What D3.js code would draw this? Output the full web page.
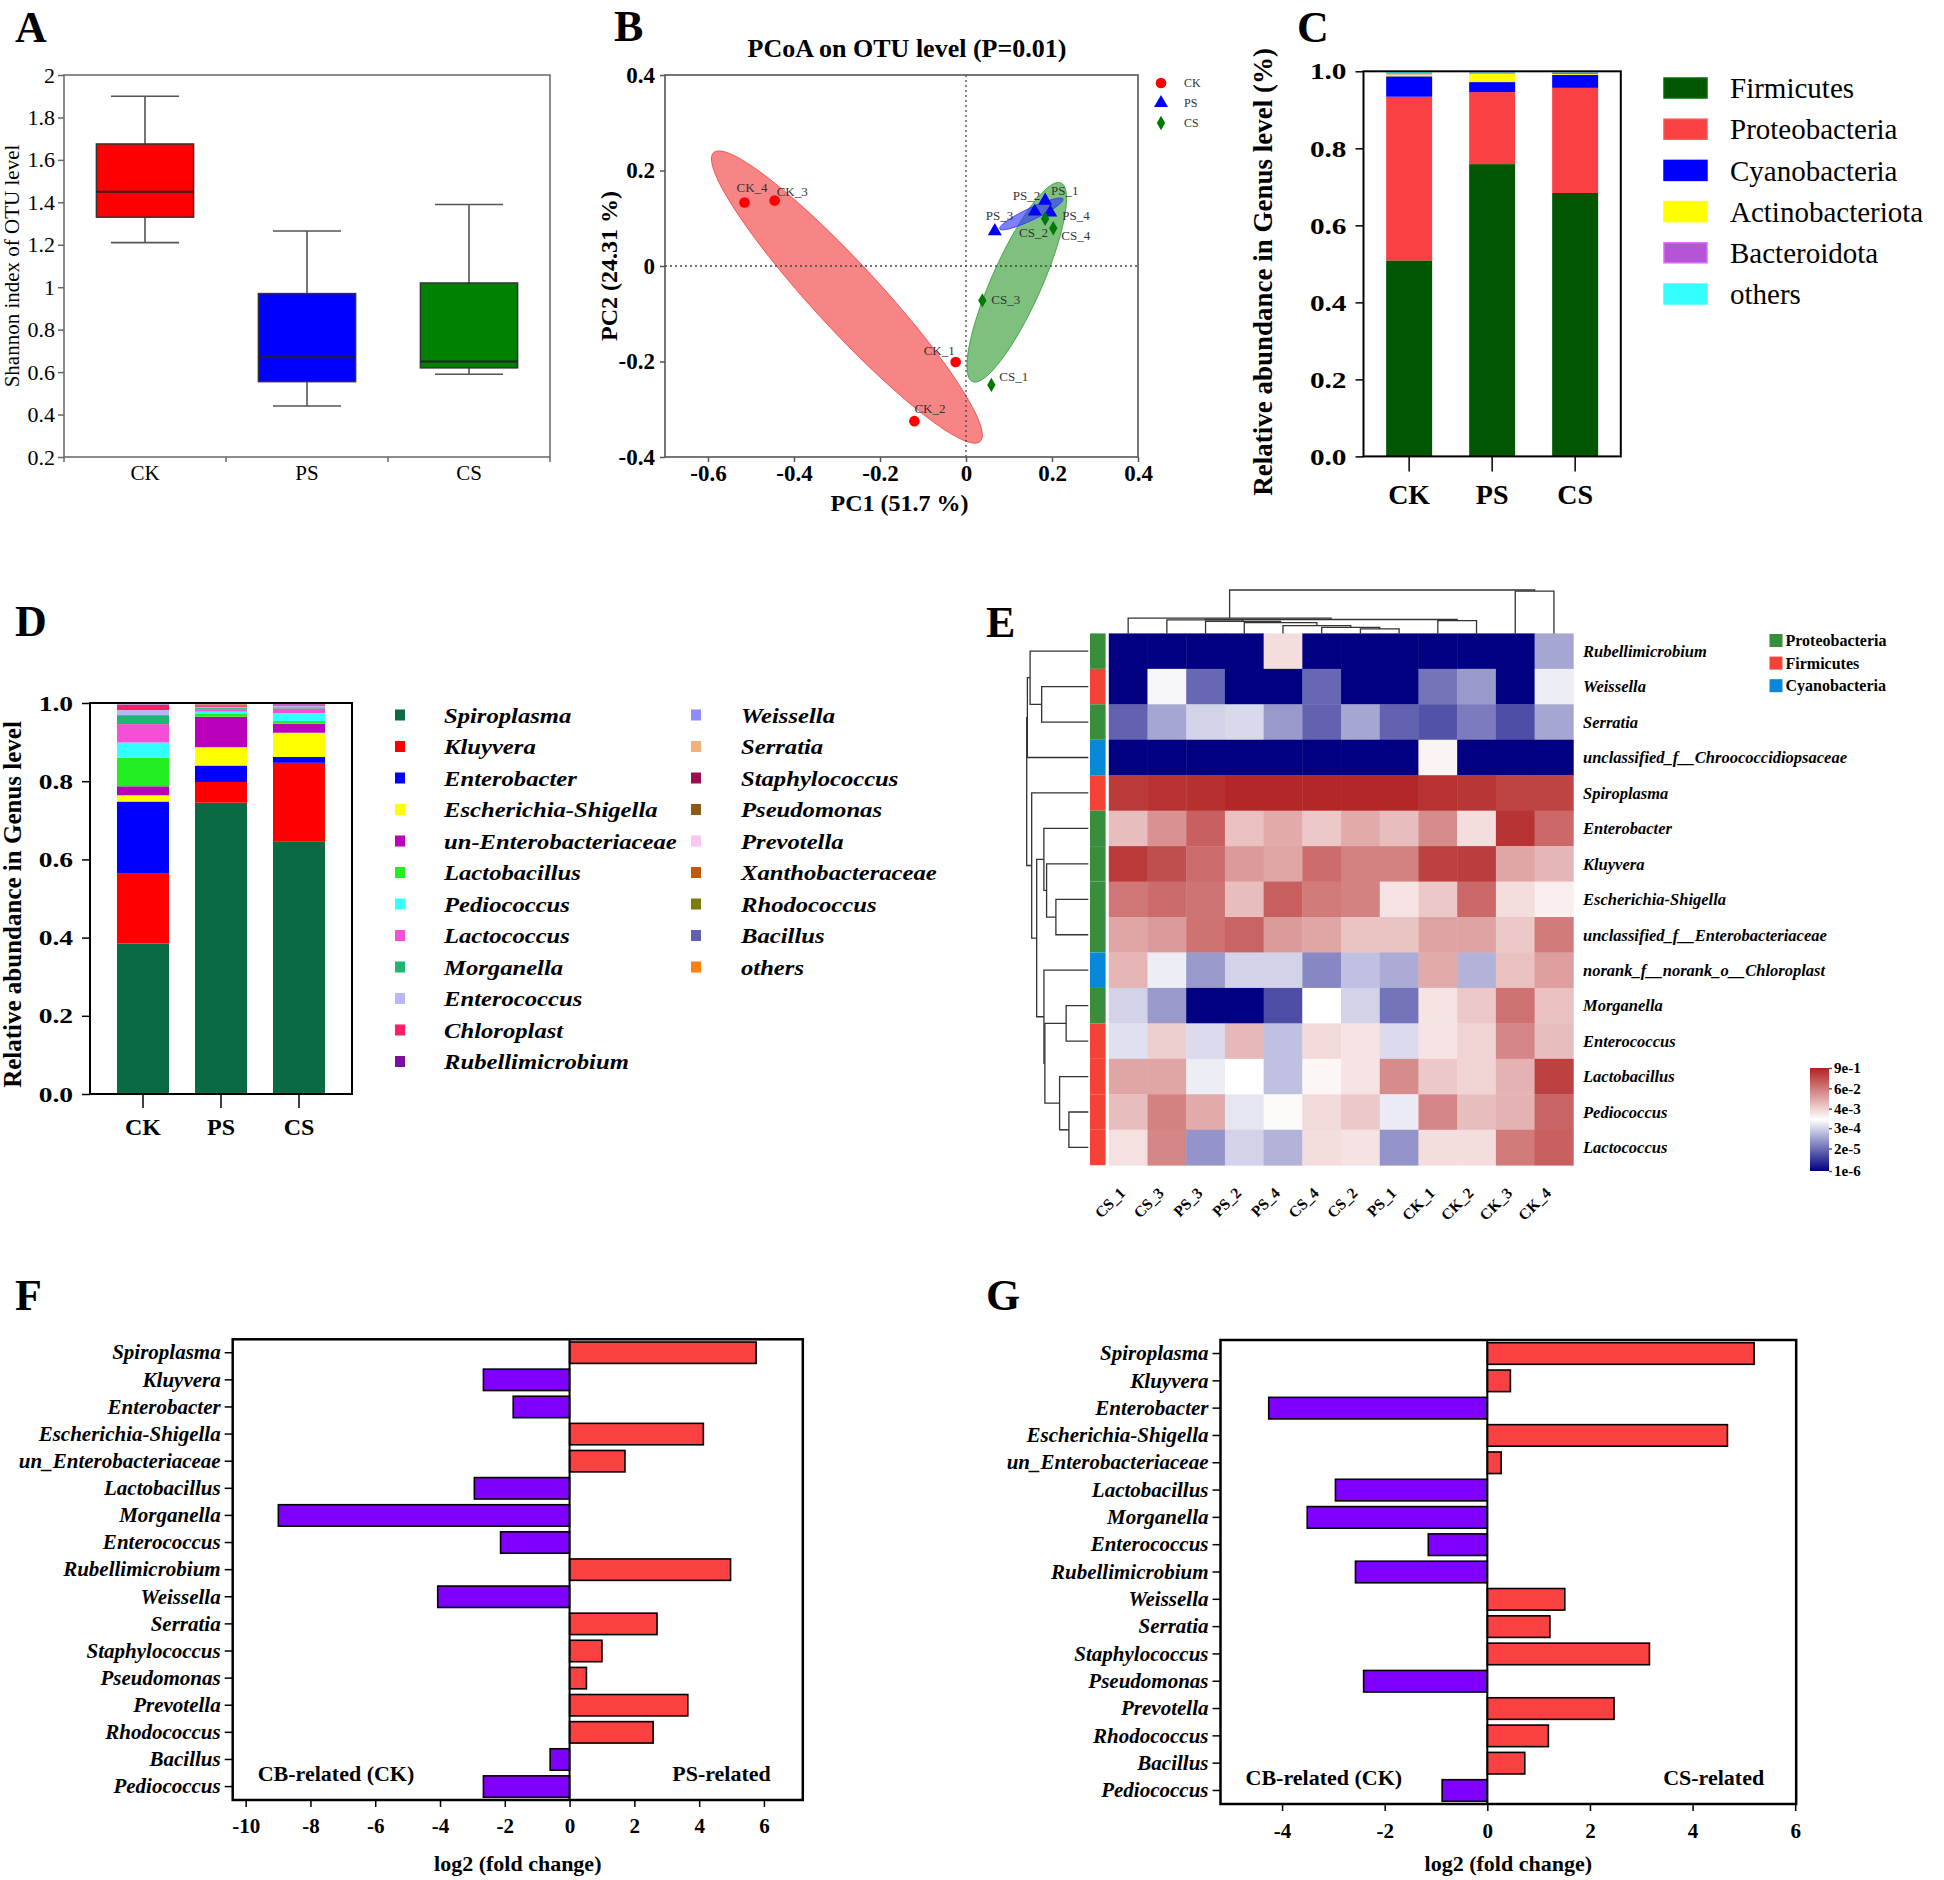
<!DOCTYPE html>
<html>
<head>
<meta charset="utf-8">
<script src="https://cdn.jsdelivr.net/npm/d3@7"></script>
<style>
  body { margin: 0; background: #fff; }
  svg { display: block; }
</style>
</head>
<body>
<div id="fig"></div>
<script>
const W = 1944, H = 1880;
const SERIF = "'Liberation Serif','Times New Roman',Times,serif";

// ---------- A: Shannon index (box stats) ----------
const groups = ["CK", "PS", "CS"];
const groupColors = ["#ff0000", "#0000ff", "#008000"];
const shannonMin = [1.21, 0.44, 0.59];
const shannonQ1 = [1.33, 0.555, 0.62];
const shannonMedian = [1.45, 0.67, 0.65];
const shannonQ3 = [1.675, 0.97, 1.02];
const shannonMax = [1.9, 1.265, 1.39];
const shannonTicks = [0.2, 0.4, 0.6, 0.8, 1, 1.2, 1.4, 1.6, 1.8, 2];

// ---------- B: PCoA ----------
const pcoaSamples = ["CK_1", "CK_2", "CK_3", "CK_4", "PS_1", "PS_2", "PS_3", "PS_4", "CS_1", "CS_2", "CS_3", "CS_4"];
const pc1 = [-0.024, -0.12, -0.445, -0.515, 0.184, 0.16, 0.067, 0.196, 0.059, 0.184, 0.038, 0.203];
const pc2 = [-0.201, -0.325, 0.137, 0.133, 0.137, 0.114, 0.073, 0.112, -0.249, 0.099, -0.072, 0.079];
const pcoaLabelNudge = [[-32, -7], [0, -8], [2, -5], [-8, -10], [6, -6], [-22, -12], [-9, -11], [12, 7], [8, -4], [-26, 18], [9, 4], [8, 12]];
const pc1Ticks = [-0.6, -0.4, -0.2, 0, 0.2, 0.4];
const pc2Ticks = [-0.4, -0.2, 0, 0.2, 0.4];
// confidence ellipses: centre + two conjugate semi-axes, in PC units
const ellipseGroups = ["CK", "CS", "PS"];
const ellipseCentre = [[-0.277, -0.065], [0.118, -0.034], [0.152, 0.109]];
const ellipseMajor = [[-0.31, 0.3025], [0.103, 0.208], [0.0735, 0.0314]];
const ellipseMinor = [[0.056, 0.047], [0.053, -0.0213], [0.006, -0.0113]];

// ---------- C: phylum composition ----------
const phyla = ["Firmicutes", "Proteobacteria", "Cyanobacteria", "Actinobacteriota", "Bacteroidota", "others"];
const phylaColors = ["#015701", "#f94144", "#0000ff", "#ffff00", "#b455d6", "#33ffff"];
const phylaCK = [0.509, 0.425, 0.053, 0.005, 0.003, 0.005];
const phylaPS = [0.759, 0.187, 0.026, 0.022, 0.003, 0.003];
const phylaCS = [0.684, 0.273, 0.034, 0.002, 0.004, 0.003];
const fracTicks = [0, 0.2, 0.4, 0.6, 0.8, 1.0];

// ---------- D: genus composition ----------
const genera = ["Spiroplasma", "Kluyvera", "Enterobacter", "Escherichia-Shigella", "un-Enterobacteriaceae",
  "Lactobacillus", "Pediococcus", "Lactococcus", "Morganella", "Enterococcus", "Chloroplast",
  "Rubellimicrobium", "Weissella", "Serratia", "Staphylococcus", "Pseudomonas", "Prevotella",
  "Xanthobacteraceae", "Rhodococcus", "Bacillus", "others"];
const generaColors = ["#0a6a44", "#ff0000", "#0000ff", "#ffff00", "#bb00bb", "#22ee22", "#33ffff", "#f550d5",
  "#1fb572", "#b8b8f8", "#ff1a6a", "#7b0f9e", "#8c8cff", "#f2b07a", "#9c0f4e", "#8c5a14", "#f8c6f0",
  "#c0580f", "#7d7d0e", "#6060b4", "#ff7f0e"];
const generaCK = [0.385, 0.18, 0.183, 0.016, 0.023, 0.073, 0.039, 0.047, 0.023, 0.013, 0.013, 0.001, 0.001, 0.001, 0.0005, 0, 0.0005, 0, 0, 0, 0.001];
const generaPS = [0.745, 0.053, 0.042, 0.047, 0.078, 0.007, 0.006, 0.006, 0.003, 0.003, 0.002, 0.002, 0.001, 0.001, 0.0005, 0.0005, 0, 0.0005, 0.0005, 0.0005, 0.0015];
const generaCS = [0.645, 0.202, 0.015, 0.062, 0.023, 0.007, 0.020, 0.012, 0.003, 0.004, 0.003, 0.001, 0.001, 0.001, 0, 0, 0.0005, 0, 0, 0, 0.0005];

// ---------- E: heatmap (log10 relative abundance) ----------
const heatRows = ["Rubellimicrobium", "Weissella", "Serratia", "unclassified_f__Chroococcidiopsaceae", "Spiroplasma",
  "Enterobacter", "Kluyvera", "Escherichia-Shigella", "unclassified_f__Enterobacteriaceae",
  "norank_f__norank_o__Chloroplast", "Morganella", "Enterococcus", "Lactobacillus", "Pediococcus", "Lactococcus"];
const heatRowPhylum = [0, 1, 0, 2, 1, 0, 0, 0, 0, 2, 0, 1, 1, 1, 1];
const heatPhyla = ["Proteobacteria", "Firmicutes", "Cyanobacteria"];
const heatPhylaColors = ["#388e3c", "#f44336", "#0a88d8"];
const heatCols = ["CS_1", "CS_3", "PS_3", "PS_2", "PS_4", "CS_4", "CS_2", "PS_1", "CK_1", "CK_2", "CK_3", "CK_4"];
const heatLog10 = [
  [-6, -6, -6, -6, -2.57, -6, -6, -6, -6, -6, -6, -4.06],
  [-6, -3.11, -4.8, -6, -6, -4.8, -6, -6, -4.65, -4.21, -6, -3.23],
  [-4.86, -4.06, -3.55, -3.47, -4.21, -4.86, -4.06, -4.86, -5.04, -4.56, -5.1, -4.06],
  [-6, -6, -6, -6, -6, -6, -6, -6, -2.87, -6, -6, -6],
  [-0.35, -0.26, -0.23, -0.11, -0.11, -0.11, -0.11, -0.11, -0.26, -0.32, -0.5, -0.5],
  [-2.13, -1.54, -0.88, -2.19, -1.89, -2.28, -1.89, -2.13, -1.48, -2.57, -0.29, -1.0],
  [-0.35, -0.64, -1.06, -1.68, -1.83, -1.06, -1.33, -1.33, -0.47, -0.41, -1.83, -2.04],
  [-1.18, -1.03, -1.15, -2.13, -0.88, -1.24, -1.33, -2.66, -2.28, -1.0, -2.57, -2.81],
  [-1.83, -1.68, -1.12, -0.94, -1.68, -1.83, -2.22, -2.22, -1.77, -1.77, -2.28, -1.24],
  [-2.04, -3.23, -4.21, -3.55, -3.55, -4.42, -3.76, -4.0, -1.89, -3.91, -2.19, -1.71],
  [-3.55, -4.21, -6, -6, -5.1, -3.02, -3.55, -4.65, -2.66, -2.28, -1.12, -2.19],
  [-3.38, -2.37, -3.44, -2.07, -3.76, -2.52, -2.66, -3.44, -2.66, -2.43, -1.39, -2.13],
  [-1.83, -1.83, -3.23, -3.02, -3.76, -2.9, -2.66, -1.48, -2.28, -2.43, -1.98, -0.47],
  [-2.13, -1.33, -1.89, -3.32, -2.96, -2.52, -2.28, -3.26, -1.39, -2.13, -1.98, -0.94],
  [-2.6, -1.39, -4.27, -3.55, -3.91, -2.57, -2.63, -4.27, -2.57, -2.57, -1.24, -0.88]
];
const colorTicks = [9e-1, 6e-2, 4e-3, 3e-4, 2e-5, 1e-6];
// dendrograms: leaves are row / column indices, h is merge distance (0..1)
const rowTree = { h: 1.0, c: [
  { h: 0.989, c: [{ h: 0.945, c: [0, { h: 0.757, c: [1, 2] }] }, 3] },
  { h: 0.919, c: [4, { h: 0.838, c: [
    { h: 0.721, c: [5, { h: 0.677, c: [6, { h: 0.526, c: [7, 8] }] }] },
    { h: 0.72, c: [9, { h: 0.705, c: [{ h: 0.36, c: [10, 11] }, { h: 0.466, c: [12, { h: 0.315, c: [13, 14] }] }] }] }
  ] }] }
] };
const colTree = { h: 1.0, c: [
  { h: 0.354, c: [0, { h: 0.32, c: [
    { h: 0.31, c: [1, { h: 0.276, c: [2, { h: 0.25, c: [3, { h: 0.18, c: [4, { h: 0.138, c: [5, { h: 0.103, c: [6, 7] }] }] }] }] }] },
    { h: 0.294, c: [8, 9] }
  ] }] },
  { h: 0.972, c: [10, 11] }
] };

// ---------- F / G: log2 fold change ----------
const fcGenera = ["Spiroplasma", "Kluyvera", "Enterobacter", "Escherichia-Shigella", "un_Enterobacteriaceae",
  "Lactobacillus", "Morganella", "Enterococcus", "Rubellimicrobium", "Weissella", "Serratia",
  "Staphylococcus", "Pseudomonas", "Prevotella", "Rhodococcus", "Bacillus", "Pediococcus"];
const fcPS = [5.76, -2.66, -1.74, 4.13, 1.71, -2.94, -8.99, -2.13, 4.97, -4.07, 2.70, 1.0, 0.52, 3.65, 2.58, -0.6, -2.66];
const fcCS = [5.2, 0.45, -4.26, 4.68, 0.27, -2.96, -3.51, -1.15, -2.57, 1.51, 1.22, 3.16, -2.41, 2.47, 1.19, 0.73, -0.88];
const fcTicksPS = [-10, -8, -6, -4, -2, 0, 2, 4, 6];
const fcTicksCS = [-4, -2, 0, 2, 4, 6];

// ======================================================================
const svg = d3.select("#fig").append("svg")
  .attr("width", W).attr("height", H)
  .attr("font-family", SERIF);

function letter(t, x, y) {
  svg.append("text").attr("x", x).attr("y", y)
    .attr("font-size", 44).attr("font-weight", "bold").text(t);
}

// d3 axes set their own font; put ours back
function styleAxis(g, size, weight, stroke, fontStyle) {
  g.attr("font-family", SERIF).attr("font-size", size).attr("font-weight", weight || "normal");
  if (fontStyle) g.attr("font-style", fontStyle);
  g.selectAll("text").attr("fill", "#000");
  g.selectAll("line").attr("stroke", stroke).attr("stroke-width", 1.5);
  g.select(".domain").remove();
  return g;
}

// stretch text horizontally (the original figure panels are slightly widened)
function widen(sel, k) {
  sel.each(function () {
    const w = this.getComputedTextLength();
    d3.select(this).attr("textLength", w * k).attr("lengthAdjust", "spacingAndGlyphs");
  });
}

function frame(g, L, R, T, B, stroke, sw) {
  g.append("rect").attr("x", L).attr("y", T).attr("width", R - L).attr("height", B - T)
    .attr("fill", "none").attr("stroke", stroke).attr("stroke-width", sw);
}

// ---------------- Panel A ----------------
letter("A", 15, 42);
{
  const L = 64, R = 550, T = 75, B = 457;
  const g = svg.append("g");
  const x = d3.scaleBand().domain(groups).range([L, R]).paddingInner(0.4).paddingOuter(0.2);
  const y = d3.scaleLinear().domain([0.2, 2]).range([B, T]);

  groups.forEach((d, i) => {
    const cx = x(d) + x.bandwidth() / 2;
    const cap = x.bandwidth() * 0.35;
    const wl = g.append("g").attr("stroke", "#555").attr("stroke-width", 1.6);
    wl.append("line").attr("x1", cx).attr("x2", cx).attr("y1", y(shannonMax[i])).attr("y2", y(shannonQ3[i]));
    wl.append("line").attr("x1", cx).attr("x2", cx).attr("y1", y(shannonQ1[i])).attr("y2", y(shannonMin[i]));
    wl.append("line").attr("x1", cx - cap).attr("x2", cx + cap).attr("y1", y(shannonMax[i])).attr("y2", y(shannonMax[i]));
    wl.append("line").attr("x1", cx - cap).attr("x2", cx + cap).attr("y1", y(shannonMin[i])).attr("y2", y(shannonMin[i]));
    g.append("rect").attr("x", x(d)).attr("width", x.bandwidth())
      .attr("y", y(shannonQ3[i])).attr("height", y(shannonQ1[i]) - y(shannonQ3[i]))
      .attr("fill", groupColors[i]).attr("stroke", "#333").attr("stroke-width", 1.5);
    g.append("line").attr("x1", x(d)).attr("x2", x(d) + x.bandwidth())
      .attr("y1", y(shannonMedian[i])).attr("y2", y(shannonMedian[i]))
      .attr("stroke", "#222").attr("stroke-width", 2);
  });

  frame(g, L, R, T, B, "#666", 1.5);

  styleAxis(g.append("g").attr("transform", `translate(${L},0)`)
    .call(d3.axisLeft(y).tickValues(shannonTicks).tickSize(6).tickPadding(3).tickFormat(d3.format("~g"))),
    22, "normal", "#666");
  styleAxis(g.append("g").attr("transform", `translate(0,${B})`)
    .call(d3.axisBottom(x).tickSize(0).tickPadding(8)), 21, "normal", "#666");
  // boundary ticks between groups
  const edges = groups.map(d => x(d) - x.step() * 0.2).concat([R]);
  g.selectAll("line.edge").data(edges).join("line").attr("class", "edge")
    .attr("x1", d => d).attr("x2", d => d).attr("y1", B).attr("y2", B + 5)
    .attr("stroke", "#666").attr("stroke-width", 1.5);

  g.append("text").attr("transform", `translate(19,${(T + B) / 2}) rotate(-90)`)
    .attr("text-anchor", "middle").attr("font-size", 21).text("Shannon index of OTU level");
}

// ---------------- Panel B ----------------
letter("B", 614, 41);
{
  const L = 665, R = 1138, T = 75, B = 457;
  const g = svg.append("g");
  const x = d3.scaleLinear().domain([-0.7, 0.4]).range([L, R]);
  const y = d3.scaleLinear().domain([-0.4, 0.4]).range([B, T]);
  const col = { CK: "#ff0000", PS: "#0000ff", CS: "#007a00" };
  const ellCol = { CK: "#f43a3a", PS: "#3030ff", CS: "#2f9a2f" };

  const ring = d3.range(0, 361, 4).map(a => a * Math.PI / 180);
  ellipseGroups.forEach((grp, i) => {
    const [cx, cy] = ellipseCentre[i], [ux, uy] = ellipseMajor[i], [vx, vy] = ellipseMinor[i];
    const pts = ring.map(t => [x(cx + ux * Math.cos(t) + vx * Math.sin(t)), y(cy + uy * Math.cos(t) + vy * Math.sin(t))]);
    g.append("path").attr("d", d3.line()(pts) + "Z")
      .attr("fill", ellCol[grp]).attr("fill-opacity", 0.62)
      .attr("stroke", ellCol[grp]).attr("stroke-opacity", 0.8).attr("stroke-width", 1);
  });

  g.append("line").attr("x1", x(0)).attr("x2", x(0)).attr("y1", T).attr("y2", B)
    .attr("stroke", "#444").attr("stroke-width", 1.3).attr("stroke-dasharray", "2,3");
  g.append("line").attr("x1", L).attr("x2", R).attr("y1", y(0)).attr("y2", y(0))
    .attr("stroke", "#444").attr("stroke-width", 1.3).attr("stroke-dasharray", "2,3");

  const shape = { CK: d3.symbol(d3.symbolCircle, 90), PS: d3.symbol(d3.symbolTriangle, 85), CS: d3.symbol(d3.symbolDiamond, 60) };
  pcoaSamples.forEach((s, i) => {
    const grp = s.slice(0, 2);
    g.append("path").attr("d", shape[grp]())
      .attr("transform", `translate(${x(pc1[i])},${y(pc2[i])})`).attr("fill", col[grp]);
    g.append("text").attr("x", x(pc1[i]) + pcoaLabelNudge[i][0]).attr("y", y(pc2[i]) + pcoaLabelNudge[i][1])
      .attr("font-size", 13).attr("fill", "#333").text(s);
  });

  frame(g, L, R, T, B, "#555", 1.6);
  const fmt = d => d === 0 ? "0" : d.toFixed(1);
  styleAxis(g.append("g").attr("transform", `translate(${L},0)`)
    .call(d3.axisLeft(y).tickValues(pc2Ticks).tickSize(5).tickPadding(5).tickFormat(fmt)), 23, "bold", "#555");
  styleAxis(g.append("g").attr("transform", `translate(0,${B})`)
    .call(d3.axisBottom(x).tickValues(pc1Ticks).tickSize(5).tickPadding(3).tickFormat(fmt)), 23, "bold", "#555");

  g.append("text").attr("x", 907).attr("y", 57).attr("text-anchor", "middle")
    .attr("font-size", 26).attr("font-weight", "bold").text("PCoA on OTU level (P=0.01)");
  g.append("text").attr("x", (L + R) / 2 - 2).attr("y", 511).attr("text-anchor", "middle")
    .attr("font-size", 24).attr("font-weight", "bold").text("PC1 (51.7 %)");
  g.append("text").attr("transform", `translate(617,${(T + B) / 2}) rotate(-90)`).attr("text-anchor", "middle")
    .attr("font-size", 24).attr("font-weight", "bold").text("PC2 (24.31 %)");

  groups.forEach((grp, i) => {
    const ly = 83 + i * 20;
    g.append("path").attr("d", shape[grp]()).attr("transform", `translate(1161,${ly})`).attr("fill", col[grp]);
    g.append("text").attr("x", 1184).attr("y", ly).attr("dy", "0.35em").attr("font-size", 12).attr("fill", "#333").text(grp);
  });
}

// ---------------- Panel C ----------------
letter("C", 1297, 42);
{
  const L = 1363.5, R = 1620.8, T = 71.3, B = 456.4;
  const g = svg.append("g");
  const x = d3.scaleBand().domain(groups).range([L, R]).paddingInner(0.446).paddingOuter(0.273);
  const y = d3.scaleLinear().domain([0, 1]).range([B, T]);
  const rows = [phylaCK, phylaPS, phylaCS].map((v, i) => {
    const o = { group: groups[i] };
    phyla.forEach((p, j) => o[p] = v[j]);
    return o;
  });
  const stack = d3.stack().keys(phyla)(rows);
  g.selectAll("g.layer").data(stack).join("g").attr("fill", (d, i) => phylaColors[i])
    .selectAll("rect").data(d => d).join("rect")
    .attr("x", d => x(d.data.group)).attr("width", x.bandwidth())
    .attr("y", d => y(d[1])).attr("height", d => y(d[0]) - y(d[1]));

  frame(g, L, R, T, B, "#000", 2);
  const ya = styleAxis(g.append("g").attr("transform", `translate(${L},0)`)
    .call(d3.axisLeft(y).tickValues(fracTicks).tickSize(8).tickPadding(9).tickFormat(d3.format(".1f"))), 24, "bold", "#000");
  widen(ya.selectAll("text"), 1.22);
  styleAxis(g.append("g").attr("transform", `translate(0,${B})`)
    .call(d3.axisBottom(x).tickSize(15).tickPadding(13)), 28, "bold", "#000");

  g.append("text").attr("transform", `translate(1272,${(T + B) / 2 + 8}) rotate(-90)`).attr("text-anchor", "middle")
    .attr("font-size", 27).attr("font-weight", "bold").text("Relative abundance in Genus level (%)");

  phyla.forEach((p, i) => {
    const ly = 88 + i * 41.2;
    g.append("rect").attr("x", 1664).attr("y", ly - 10).attr("width", 43).attr("height", 20)
      .attr("fill", phylaColors[i]).attr("stroke", d3.color(phylaColors[i]).brighter(0.6)).attr("stroke-width", 1.5);
    g.append("text").attr("x", 1730).attr("y", ly).attr("dy", "0.35em").attr("font-size", 29).text(p);
  });
}

// ---------------- Panel D ----------------
letter("D", 15, 636);
{
  const L = 90, R = 352, T = 703, B = 1094;
  const g = svg.append("g");
  const x = d3.scaleBand().domain(groups).range([L, R]).paddingInner(0.333).paddingOuter(0.346);
  const y = d3.scaleLinear().domain([0, 1]).range([B, T]);
  const rows = [generaCK, generaPS, generaCS].map((v, i) => {
    const o = { group: groups[i] };
    genera.forEach((p, j) => o[p] = v[j]);
    return o;
  });
  const stack = d3.stack().keys(genera)(rows);
  g.selectAll("g.layer").data(stack).join("g").attr("fill", (d, i) => generaColors[i])
    .selectAll("rect").data(d => d).join("rect")
    .attr("x", d => x(d.data.group)).attr("width", x.bandwidth())
    .attr("y", d => y(d[1])).attr("height", d => y(d[0]) - y(d[1]));

  frame(g, L, R, T, B, "#000", 2);
  const ya = styleAxis(g.append("g").attr("transform", `translate(${L},0)`)
    .call(d3.axisLeft(y).tickValues(fracTicks).tickSize(8).tickPadding(9).tickFormat(d3.format(".1f"))), 22, "bold", "#000");
  widen(ya.selectAll("text"), 1.25);
  styleAxis(g.append("g").attr("transform", `translate(0,${B})`)
    .call(d3.axisBottom(x).tickSize(14).tickPadding(10)), 24, "bold", "#000");

  g.append("text").attr("transform", `translate(21,${(T + B) / 2 + 6}) rotate(-90)`).attr("text-anchor", "middle")
    .attr("font-size", 25).attr("font-weight", "bold").text("Relative abundance in Genus level");

  genera.forEach((p, i) => {
    const colIdx = i < 12 ? 0 : 1;
    const row = i < 12 ? i : i - 12;
    const ly = 715 + row * 31.5;
    const sx = colIdx ? 696 : 400, tx = colIdx ? 741 : 444;
    g.append("rect").attr("x", sx - 5).attr("y", ly - 5.5).attr("width", 10).attr("height", 11).attr("fill", generaColors[i]);
    const t = g.append("text").attr("x", tx).attr("y", ly).attr("dy", "0.35em")
      .attr("font-size", 22).attr("font-weight", "bold").attr("font-style", "italic").text(p);
    widen(t, 1.12);
  });
}

// ---------------- Panel E ----------------
letter("E", 986, 637);
{
  const X0 = 1108.8, X1 = 1573.3, Y0 = 633.4, Y1 = 1165.2;
  const g = svg.append("g");
  const x = d3.scaleBand().domain(heatCols).range([X0, X1]);
  const y = d3.scaleBand().domain(heatRows).range([Y0, Y1]);
  const color = d3.scaleLog().domain([1e-6, 9.5e-4, 0.9]).range(["#000080", "#ffffff", "#b22222"]).clamp(true);

  const cells = heatRows.flatMap((r, i) => heatCols.map((c, j) => ({ r, c, v: Math.pow(10, heatLog10[i][j]) })));
  g.selectAll("rect.cell").data(cells).join("rect").attr("class", "cell")
    .attr("x", d => x(d.c)).attr("y", d => y(d.r))
    .attr("width", x.bandwidth() + 0.4).attr("height", y.bandwidth() + 0.4)
    .attr("fill", d => color(d.v));

  // phylum side bar
  g.selectAll("rect.ph").data(heatRows).join("rect").attr("class", "ph")
    .attr("x", 1090).attr("width", 15.6).attr("y", d => y(d)).attr("height", y.bandwidth())
    .attr("fill", (d, i) => heatPhylaColors[heatRowPhylum[i]]);

  // dendrograms
  const dg = g.append("g").attr("fill", "none").attr("stroke", "#333").attr("stroke-width", 1.3);
  function drawTree(node, leafPos, hPos, vertical) {
    if (typeof node === "number") return [leafPos(node), 0];
    const [a, b] = node.c.map(k => drawTree(k, leafPos, hPos, vertical));
    let pts = [[hPos(a[1]), a[0]], [hPos(node.h), a[0]], [hPos(node.h), b[0]], [hPos(b[1]), b[0]]];
    if (vertical) pts = pts.map(p => [p[1], p[0]]);
    dg.append("path").attr("d", d3.line()(pts));
    return [(a[0] + b[0]) / 2, node.h];
  }
  const rowH = d3.scaleLinear().domain([0, 1]).range([1088.3, 1026.7]);
  drawTree(rowTree, i => y(heatRows[i]) + y.bandwidth() / 2, rowH, false);
  const colH = d3.scaleLinear().domain([0, 1]).range([Y0, 590]);
  drawTree(colTree, j => x(heatCols[j]) + x.bandwidth() / 2, colH, true);

  g.selectAll("text.rl").data(heatRows).join("text").attr("class", "rl")
    .attr("x", 1583).attr("y", d => y(d) + y.bandwidth() / 2).attr("dy", "0.35em")
    .attr("font-size", 16.5).attr("font-weight", "bold").attr("font-style", "italic").text(d => d);

  g.selectAll("text.cl").data(heatCols).join("text").attr("class", "cl")
    .attr("transform", d => `translate(${x(d) + x.bandwidth() / 2 - 2},1194) rotate(-45)`)
    .attr("text-anchor", "end").attr("font-size", 15.5).attr("font-weight", "bold").text(d => d);

  // phylum legend
  heatPhyla.forEach((p, i) => {
    const ly = 640.5 + i * 22.6;
    g.append("rect").attr("x", 1769.5).attr("y", ly - 6.5).attr("width", 13).attr("height", 13).attr("fill", heatPhylaColors[i]);
    g.append("text").attr("x", 1785.5).attr("y", ly).attr("dy", "0.35em")
      .attr("font-size", 16).attr("font-weight", "bold").text(p);
  });

  // colour bar
  const cb = d3.scaleLog().domain([1e-6, 0.9]).range([1171, 1068]);
  const grad = svg.append("defs").append("linearGradient").attr("id", "heatGrad")
    .attr("x1", 0).attr("x2", 0).attr("y1", 1).attr("y2", 0);
  d3.range(0, 1.0001, 0.05).forEach(f => {
    const v = cb.invert(1171 - f * 103);
    grad.append("stop").attr("offset", f).attr("stop-color", color(v));
  });
  g.append("rect").attr("x", 1810).attr("y", 1068).attr("width", 19).attr("height", 103).attr("fill", "url(#heatGrad)");
  const sci = d => { const e = Math.floor(Math.log10(d) + 1e-9); return Math.round(d / Math.pow(10, e)) + "e" + e; };
  styleAxis(g.append("g").attr("transform", "translate(1829,0)")
    .call(d3.axisRight(cb).tickValues(colorTicks).tickSize(3).tickPadding(2).tickFormat(sci)), 15, "bold", "#555");
}

// ---------------- Panels F & G ----------------
function foldChange(vals, L, R, T, B, domain, ticks, leftText, rightText, tickPad) {
  const g = svg.append("g");
  const x = d3.scaleLinear().domain(domain).range([L, R]);
  const y = d3.scaleBand().domain(fcGenera).range([T, B]).paddingInner(0.21).paddingOuter(0.1);
  g.selectAll("rect.bar").data(vals).join("rect").attr("class", "bar")
    .attr("x", d => x(Math.min(0, d))).attr("width", d => Math.abs(x(d) - x(0)))
    .attr("y", (d, i) => y(fcGenera[i])).attr("height", y.bandwidth())
    .attr("fill", d => d >= 0 ? "#fa4141" : "#8000ff")
    .attr("stroke", "#000").attr("stroke-width", 1.6);
  g.append("line").attr("x1", x(0)).attr("x2", x(0)).attr("y1", T).attr("y2", B)
    .attr("stroke", "#000").attr("stroke-width", 2);
  frame(g, L, R, T, B, "#000", 2.5);

  styleAxis(g.append("g").attr("transform", `translate(${L},0)`)
    .call(d3.axisLeft(y).tickSize(8).tickPadding(4)), 21, "bold", "#000", "italic");
  styleAxis(g.append("g").attr("transform", `translate(0,${B})`)
    .call(d3.axisBottom(x).tickValues(ticks).tickSize(7).tickPadding(tickPad).tickFormat(d => String(d))), 21, "bold", "#000");

  g.append("text").attr("x", L + 25).attr("y", B - 19).attr("font-size", 22).attr("font-weight", "bold").text(leftText);
  g.append("text").attr("x", R - 32).attr("y", B - 19).attr("text-anchor", "end")
    .attr("font-size", 22).attr("font-weight", "bold").text(rightText);
  g.append("text").attr("x", (L + R) / 2).attr("y", 1871).attr("text-anchor", "middle")
    .attr("font-size", 22).attr("font-weight", "bold").text("log2 (fold change)");
}

letter("F", 15, 1310);
foldChange(fcPS, 232.7, 802.8, 1339.3, 1800, [-10.4, 7.2], fcTicksPS, "CB-related (CK)", "PS-related", 11);
letter("G", 986, 1310);
foldChange(fcCS, 1220.5, 1796.2, 1340, 1804, [-5.2, 6.02], fcTicksCS, "CB-related (CK)", "CS-related", 12);
</script>
</body>
</html>
